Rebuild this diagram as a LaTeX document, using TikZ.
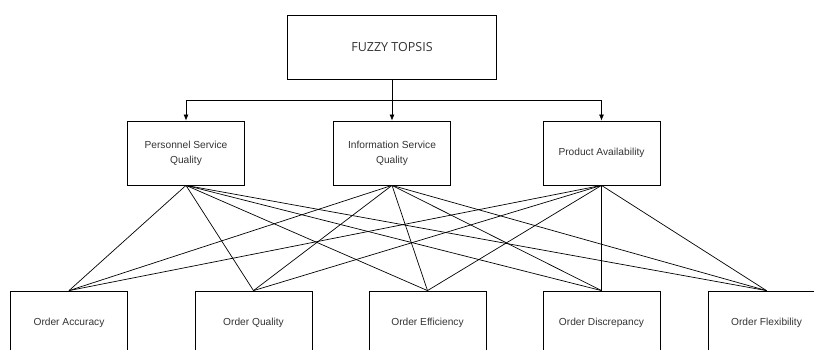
\documentclass[tikz,border=0pt]{standalone}
\usepackage{fontspec}
\setmainfont{Liberation Sans}
\newfontfamily\titlefont{Open Sans}
\usetikzlibrary{arrows.meta}
\definecolor{boxtext}{gray}{0.2}
\tikzset{
	critbox/.style={draw, line width=0.8pt, minimum width=117pt, minimum height=64pt, inner sep=0pt,
		align=center, text=boxtext, font=\fontsize{10.2}{15}\selectfont},
	link/.style={line width=0.7pt}
}

\begin{document}
\begin{tikzpicture}[>={Latex[length=6pt,width=5pt]}, x=1pt, y=-1pt]

			\useasboundingbox (0,0) rectangle (814,350);
			\clip (0,0) rectangle (814,350);

			% goal
			\node[critbox, minimum width=209pt, text=boxtext, font=\titlefont\fontsize{12.5}{15}\selectfont] (topsis) at (392,47) {FUZZY TOPSIS};

			% criteria
			\node[critbox] (personnel) at (186,153) {Personnel Service\\Quality};
			\node[critbox] (information) at (392,153) {Information Service\\Quality};
			\node[critbox] (product) at (601.5,153) {Product Availability};

			% alternatives
			\node[critbox] (accuracy) at (69,323) {Order Accuracy};
			\node[critbox] (quality) at (253.5,323) {Order Quality};
			\node[critbox] (efficiency) at (427.5,323) {Order Efficiency};
			\node[critbox] (discrepancy) at (601.5,323) {Order Discrepancy};
			\node[critbox] (flexibility) at (766.5,323) {Order Flexibility};

			\coordinate (split) at (392,100);
			\draw[link] (topsis) -- (split);
			\draw[link,->] (split) -| (personnel);
			\draw[link,->] (split) -- (information);
			\draw[link,->] (split) -| (product);

			\foreach \c in {personnel,information,product}{
				\foreach \a in {accuracy,quality,efficiency,discrepancy,flexibility}{
					\draw[link] (\c.south) -- (\a.north);
				}
			}

\end{tikzpicture}
\end{document}
